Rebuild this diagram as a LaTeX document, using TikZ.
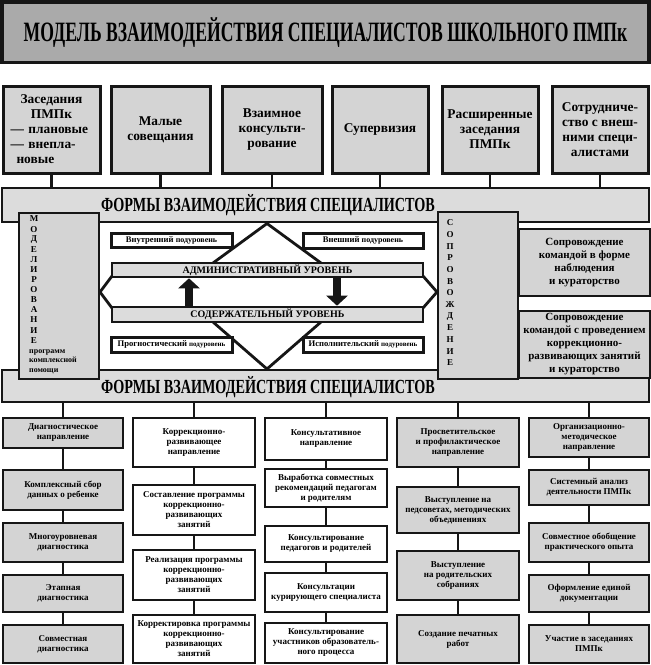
\documentclass[tikz,border=0pt]{standalone}
\usepackage{fontspec}
\setmainfont{Liberation Serif}
\newfontfamily\condf[FakeStretch=0.71]{Liberation Serif}
\newfontfamily\titlef[FakeStretch=0.63]{Liberation Serif}
\usetikzlibrary{arrows.meta}
\definecolor{titlegray}{RGB}{170,170,170}
\definecolor{boxgray}{RGB}{212,212,212}
\definecolor{bargray}{RGB}{220,220,220}
\definecolor{linec}{RGB}{22,22,22}
\newcommand\rbox[7]{%
  \node[#6, minimum width={(#4-#2)*1pt}, minimum height={(#5-#3)*1pt}] (#1) at ({(#2+#4)/2},{(#3+#5)/2}) {#7};}
\begin{document}
\begin{tikzpicture}[x=1pt,y=-1pt,
  titlebox/.style={draw=linec, line width=3.5pt, fill=titlegray, inner sep=0pt,
    font=\titlef\bfseries\fontsize{28}{30}\selectfont},
  topbox/.style={draw=linec, line width=3pt, fill=boxgray, inner sep=1pt, align=center,
    font=\bfseries\fontsize{13.4}{15}\selectfont},
  barbox/.style={draw=linec, line width=2.6pt, fill=bargray, inner sep=0pt},
  bartext/.style={inner sep=0pt, font=\condf\bfseries\fontsize{20}{22}\selectfont},
  levelbar/.style={draw=linec, line width=2.6pt, fill=bargray, inner sep=0pt,
    font=\bfseries\fontsize{10}{11}\selectfont},
  subbox/.style={draw=linec, line width=3pt, fill=white, inner sep=0pt,
    font=\bfseries\fontsize{8.6}{9}\selectfont},
  vbox/.style={draw=linec, line width=2.8pt, fill=boxgray, inner sep=0pt},
  rightbox/.style={draw=linec, line width=2.8pt, fill=boxgray, inner sep=1pt, align=center,
    font=\bfseries\fontsize{11}{13}\selectfont},
  vletter/.style={inner sep=0pt, font=\bfseries\fontsize{9}{10}\selectfont},
  colg/.style={draw=linec, line width=2.6pt, fill=boxgray, inner sep=1pt, align=center,
    font=\bfseries\fontsize{9}{10}\selectfont},
  colw/.style={draw=linec, line width=2.6pt, fill=white, inner sep=1pt, align=center,
    font=\bfseries\fontsize{9}{10}\selectfont},
  conn/.style={draw=linec, line width=2.4pt},
  dline/.style={draw=linec, line width=2.8pt, line join=miter},
  bigarrow/.style={draw=linec, line width=8pt, -{Triangle[width=21pt,length=10pt]}, fill=linec}
]
\useasboundingbox (0,0) rectangle (651,665);
\fill[white] (0,0) rectangle (651,665);

% title
\rbox{title}{1.8}{1.8}{649.2}{62.5}{titlebox}{МОДЕЛЬ ВЗАИМОДЕЙСТВИЯ СПЕЦИАЛИСТОВ ШКОЛЬНОГО ПМПк}

% bars
\rbox{topbar}{2}{188}{649}{222}{barbox}{}
\rbox{lowbar}{2}{370}{649}{402}{barbox}{}
\node[bartext] (toptxt) at (268,205) {ФОРМЫ ВЗАИМОДЕЙСТВИЯ СПЕЦИАЛИСТОВ};
\node[bartext] (lowtxt) at (268,387) {ФОРМЫ ВЗАИМОДЕЙСТВИЯ СПЕЦИАЛИСТОВ};

% top boxes
\rbox{t1}{3}{86}{100}{173}{topbox, align=left, text width=82pt}{{\centering Заседания\\ПМПк\par}— плановые\\— внепла-\\\hspace*{0.45em}новые}
\rbox{t2}{111}{86}{210}{173}{topbox}{Малые\\совещания}
\rbox{t3}{222}{86}{322}{173}{topbox}{Взаимное\\консульти-\\рование}
\rbox{t4}{332}{86}{428}{173}{topbox}{Супервизия}
\rbox{t5}{442}{86}{538}{173}{topbox}{Расширенные\\заседания\\ПМПк}
\rbox{t6}{552}{86}{648}{173}{topbox}{Сотрудниче-\\ство с внеш-\\ними специ-\\алистами}
\foreach \t in {t1,t2,t3,t4,t5,t6}{
  \draw[conn] (\t.south) -- (\t.south |- topbar.north);
}

% diamond
\coordinate (dtop) at (267,223.5);
\coordinate (dbot) at (267,369);
\coordinate (dal) at (213,263);
\coordinate (dar) at (321,263);
\coordinate (dbl) at (213,322);
\coordinate (dbr) at (321,322);
\draw[dline] (dal) -- (dtop) -- (dar);
\draw[dline] (dbl) -- (dbot) -- (dbr);
\coordinate (lv) at (100,292);
\coordinate (rv) at (437,292);
\coordinate (la) at (112,276);
\coordinate (lb) at (112,308);
\coordinate (ra) at (423,276);
\coordinate (rb) at (423,308);
\draw[dline] (la) -- (lv) -- (lb);
\draw[dline] (ra) -- (rv) -- (rb);

% level bars
\rbox{abar}{112}{263}{423}{277}{levelbar}{АДМИНИСТРАТИВНЫЙ УРОВЕНЬ}
\rbox{cbar}{112}{307}{423}{322}{levelbar}{СОДЕРЖАТЕЛЬНЫЙ УРОВЕНЬ}
\draw[bigarrow] (189,0 |- cbar.north) -- (189,0 |- abar.south);
\draw[bigarrow] (337,0 |- abar.south) -- (337,0 |- cbar.north);

% sublevel boxes
\rbox{s1}{111}{233}{232}{247}{subbox}{Внутренний {\fontsize{8}{9}\selectfont подуровень}}
\rbox{s2}{303}{233}{423}{248}{subbox}{Внешний {\fontsize{8}{9}\selectfont подуровень}}
\rbox{s3}{111}{337}{232}{352}{subbox}{Прогностический {\fontsize{7}{8}\selectfont подуровень}}
\rbox{s4}{303}{337}{423}{352}{subbox}{Исполнительский {\fontsize{7}{8}\selectfont подуровень}}

% vertical boxes
\rbox{mbox}{19}{213}{99}{379}{vbox}{}
\rbox{sbox}{438}{212}{518}{379}{vbox}{}
\foreach \l [count=\i] in {М,О,Д,Е,Л,И,Р,О,В,А,Н,И,Е}{
  \node[vletter] (m\i) at (34,{219+(\i-1)*10.1}) {\l};
}
\node[inner sep=0pt, align=left, anchor=north west, font=\bfseries\fontsize{8}{9.4}\selectfont] (mtxt) at (29,349.5) {программ\\комплексной\\помощи};
\foreach \l [count=\i] in {С,О,П,Р,О,В,О,Ж,Д,Е,Н,И,Е}{
  \node[vletter] (sv\i) at (450,{223+(\i-1)*11.67}) {\l};
}

% right boxes
\rbox{r1}{519}{229}{650}{296}{rightbox}{Сопровождение\\командой в форме\\наблюдения\\и кураторство}
\rbox{r2}{519}{311}{650}{378}{rightbox}{Сопровождение\\командой с проведением\\коррекционно-\\развивающих занятий\\и кураторство}

% column 1
\rbox{a1}{3}{418}{123}{448}{colg}{Диагностическое\\направление}
\rbox{a2}{3}{470}{123}{510}{colg}{Комплексный сбор\\данных о ребенке}
\rbox{a3}{3}{523}{123}{562}{colg}{Многоуровневая\\диагностика}
\rbox{a4}{3}{575}{123}{612}{colg}{Этапная\\диагностика}
\rbox{a5}{3}{625}{123}{663}{colg}{Совместная\\диагностика}
% column 2
\rbox{b1}{133}{418}{255}{467}{colw}{Коррекционно-\\развивающее\\направление}
\rbox{b2}{133}{485}{255}{535}{colw}{Составление программы\\коррекционно-\\развивающих\\занятий}
\rbox{b3}{133}{550}{255}{600}{colw}{Реализация программы\\коррекционно-\\развивающих\\занятий}
\rbox{b4}{133}{615}{255}{663}{colw}{Корректировка программы\\коррекционно-\\развивающих\\занятий}
% column 3
\rbox{c1}{265}{418}{387}{460}{colw}{Консультативное\\направление}
\rbox{c2}{265}{469}{387}{507}{colw}{Выработка совместных\\рекомендаций педагогам\\и родителям}
\rbox{c3}{265}{526}{387}{562}{colw}{Консультирование\\педагогов и родителей}
\rbox{c4}{265}{573}{387}{612}{colw}{Консультации\\курирующего специалиста}
\rbox{c5}{265}{623}{387}{663}{colw}{Консультирование\\участников образователь-\\ного процесса}
% column 4
\rbox{d1}{397}{418}{519}{467}{colg}{Просветительское\\и профилактическое\\направление}
\rbox{d2}{397}{487}{519}{533}{colg}{Выступление на\\педсоветах, методических\\объединениях}
\rbox{d3}{397}{551}{519}{600}{colg}{Выступление\\на родительских\\собраниях}
\rbox{d4}{397}{615}{519}{663}{colg}{Создание печатных\\работ}
% column 5
\rbox{e1}{529}{418}{649}{457}{colg}{Организационно-\\методическое\\направление}
\rbox{e2}{529}{470}{649}{505}{colg}{Системный анализ\\деятельности ПМПк}
\rbox{e3}{529}{523}{649}{562}{colg}{Совместное обобщение\\практического опыта}
\rbox{e4}{529}{575}{649}{612}{colg}{Оформление единой\\документации}
\rbox{e5}{529}{625}{649}{663}{colg}{Участие в заседаниях\\ПМПк}

% column connectors
\foreach \c in {a1,b1,c1,d1,e1}{
  \draw[conn] (\c.north |- lowbar.south) -- (\c.north);
}
\foreach \p/\q in {a1/a2,a2/a3,a3/a4,a4/a5,b1/b2,b2/b3,b3/b4,c1/c2,c2/c3,c3/c4,c4/c5,d1/d2,d2/d3,d3/d4,e1/e2,e2/e3,e3/e4,e4/e5}{
  \draw[conn] (\p.south) -- (\q.north);
}
\end{tikzpicture}
\end{document}
